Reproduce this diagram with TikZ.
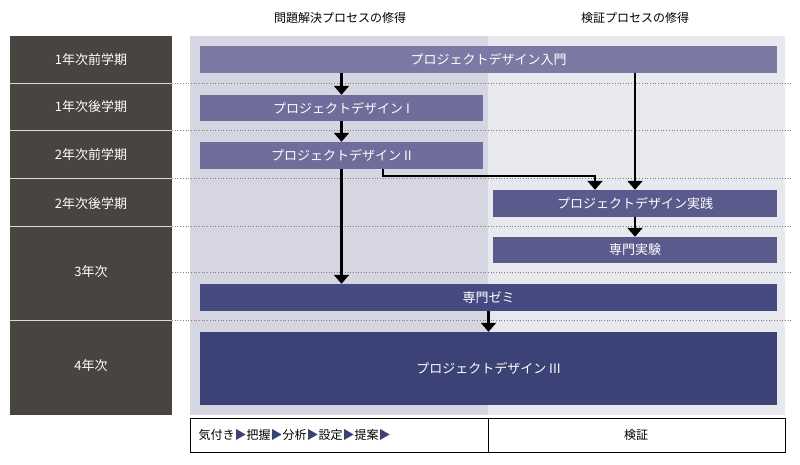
\documentclass[tikz,border=0pt]{standalone}
\usepackage{fontspec}
\setmainfont{Noto Sans CJK JP}
\usetikzlibrary{arrows.meta}
\definecolor{dark}{HTML}{484541}
\definecolor{bgl}{HTML}{D6D6E3}
\definecolor{bgr}{HTML}{E8E8EF}
\definecolor{c1}{HTML}{7B7AA5}
\definecolor{c2}{HTML}{6E6D9C}
\definecolor{c3}{HTML}{5A5A8C}
\definecolor{c4}{HTML}{454A80}
\definecolor{c5}{HTML}{3B4275}
\tikzset{
 bx/.style={fill=#1, draw=none, text=white, font=\fontsize{13}{13}\selectfont},
 rl/.style={text=white, font=\fontsize{13}{13}\selectfont},
 hd/.style={font=\fontsize{12}{12}\selectfont},
 ar/.style={line width=2.2pt, -{Triangle[width=15pt,length=9pt]}},
 dl/.style={dotted, gray, line width=0.7pt}
}
\begin{document}
\begin{tikzpicture}[x=1pt,y=-1pt]
\useasboundingbox (0,0) rectangle (800,464);
\fill[white] (0,0) rectangle (800,464);
% left column
\fill[dark] (10,36) rectangle (172,415);
\foreach \y in {83,130,178,226,320} \draw[white!80!dark, line width=1pt] (10,\y) -- (172,\y);
\node[rl] (r1) at (91,60) {1年次前学期};
\node[rl] (r2) at (91,107) {1年次後学期};
\node[rl] (r3) at (91,155) {2年次前学期};
\node[rl] (r4) at (91,204) {2年次後学期};
\node[rl] (r5) at (91,272) {3年次};
\node[rl] (r6) at (91,366) {4年次};
% background
\fill[bgl] (190,36) rectangle (488,415);
\fill[bgr] (488,36) rectangle (785,415);
\foreach \y in {83,130,178,226,272,320} \draw[dl] (172,\y) -- (792,\y);
\node[hd] (h1) at (340,18) {問題解決プロセスの修得};
\node[hd] (h2) at (635,18) {検証プロセスの修得};
% boxes
\node[bx=c1, minimum width=577pt, minimum height=27pt] (a) at (488.5,59.5) {プロジェクトデザイン入門};
\node[bx=c2, minimum width=283pt, minimum height=26pt] (b) at (341.5,108) {プロジェクトデザイン I};
\node[bx=c2, minimum width=283pt, minimum height=27pt] (c) at (341.5,155.5) {プロジェクトデザイン II};
\node[bx=c3, minimum width=284pt, minimum height=27pt] (d) at (635,203.5) {プロジェクトデザイン実践};
\node[bx=c3, minimum width=284pt, minimum height=26pt] (e) at (635,250) {専門実験};
\node[bx=c4, minimum width=577pt, minimum height=27pt] (f) at (488.5,297.5) {専門ゼミ};
\node[bx=c5, minimum width=577pt, minimum height=73pt] (g) at (488.5,368.5) {プロジェクトデザイン III};
% arrows
\draw[ar] (a.south -| b) -- (b.north);
\draw[ar] (b) -- (c);
\draw[ar] (c.south) -- (f.north -| c);
\draw[ar] (a.south -| d) -- (d.north);
\draw[ar] (d) -- (e);
\draw[ar] (f.south) -- (g.north);
\coordinate (k) at (383,176);
\draw[ar] (c.south -| k) -- (k) -| ([xshift=-40pt]d.north);
% bottom
\draw[line width=0.6pt] (190,418) rectangle (785,452);
\draw[line width=0.6pt] (488,418) -- (488,452);
\node[font=\fontsize{12}{12}\selectfont, anchor=west] (p) at (195,435) {気付き\textcolor{c5}{▶}把握\textcolor{c5}{▶}分析\textcolor{c5}{▶}設定\textcolor{c5}{▶}提案\textcolor{c5}{▶}};
\node[font=\fontsize{12}{12}\selectfont] (q) at (636,435) {検証};
\end{tikzpicture}
\end{document}
